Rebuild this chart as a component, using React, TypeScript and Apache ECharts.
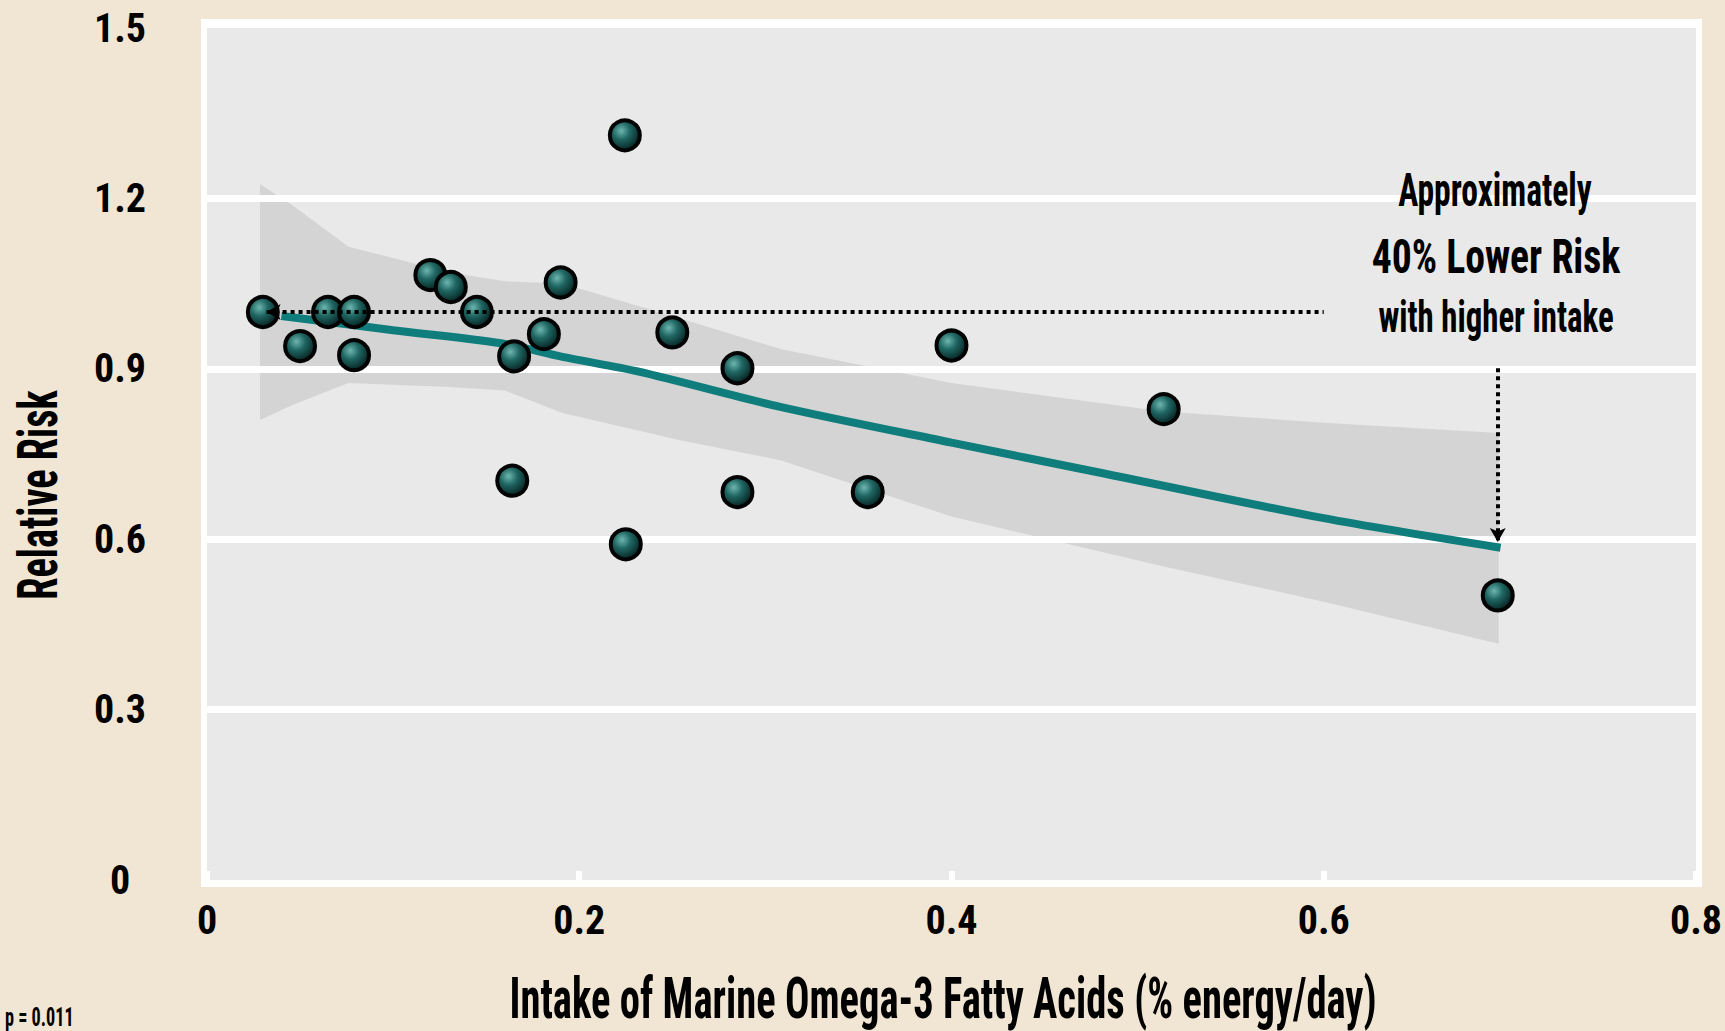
import React, { useEffect, useRef } from "react";
import * as echarts from "echarts";

// ---- data ----
const studyX = [0.03, 0.05, 0.065, 0.079, 0.079, 0.12, 0.131, 0.145, 0.19, 0.181, 0.165, 0.164, 0.2245, 0.225, 0.25, 0.285, 0.285, 0.355, 0.40, 0.514, 0.6935];
const studyRR = [1.0, 0.94, 1.0, 1.0, 0.924, 1.065, 1.044, 1.0, 1.052, 0.961, 0.922, 0.703, 1.311, 0.591, 0.964, 0.901, 0.683, 0.683, 0.941, 0.829, 0.501];

const trendX = [0.04, 0.10, 0.158, 0.191, 0.232, 0.308, 0.40, 0.48, 0.60, 0.695];
const trendY = [0.993, 0.968, 0.945, 0.921, 0.895, 0.833, 0.77, 0.717, 0.637, 0.585];

const bandX = [0.0285, 0.045, 0.076, 0.13, 0.16, 0.191, 0.253, 0.308, 0.40, 0.514, 0.60, 0.694];
const bandUpper = [1.225, 1.19, 1.115, 1.07, 1.054, 1.05, 0.99, 0.935, 0.875, 0.825, 0.805, 0.787];
const bandLower = [0.81, 0.835, 0.875, 0.868, 0.862, 0.822, 0.775, 0.739, 0.64, 0.552, 0.49, 0.416];

const refLineStart = [0.032, 1.0];
const refLineEnd = [0.6, 1.0];
const dropArrowStart = [0.6935, 0.901];
const dropArrowEnd = [0.6935, 0.595];

const xTicks = { min: 0, max: 0.8, interval: 0.2 };
const yTicks = { min: 0, max: 1.5, interval: 0.3 };

const xTitle = "Intake of Marine Omega-3 Fatty Acids (% energy/day)";
const yTitle = "Relative Risk";
const noteLines = ["Approximately", "40% Lower Risk", "with higher intake"];
const pText = "p = 0.011";

const FONT = "'Liberation Sans Narrow', 'Roboto Condensed', 'DejaVu Sans Condensed', sans-serif";

export default function App() {
  const ref = useRef<HTMLDivElement>(null);

  useEffect(() => {
    document.body.style.margin = "0";
    const chart = echarts.init(ref.current!, null, { renderer: "svg" });

    const points = studyX.map((x, i) => [x, studyRR[i]]);
    const trend = trendX.map((x, i) => [x, trendY[i]]);

    const markerFill = new echarts.graphic.RadialGradient(0.38, 0.35, 0.65, [
      { offset: 0, color: "#6db5ae" },
      { offset: 0.45, color: "#1f6662" },
      { offset: 1, color: "#072624" },
    ]);

    const txt = (text: string, x: number, y: number, size: number, sx: number, extra: any = {}) => ({
      type: "text",
      x,
      y,
      z: 20,
      scaleX: sx,
      ...extra,
      style: {
        text,
        fontFamily: FONT,
        fontWeight: "bold",
        fontSize: size,
        fill: "#000000",
        textAlign: "center",
        textVerticalAlign: "middle",
        ...(extra.style || {}),
      },
    });

    chart.setOption({
      animation: false,
      backgroundColor: "#f1e6d3",
      grid: {
        left: 207,
        top: 28,
        width: 1489,
        height: 852,
        show: true,
        backgroundColor: "#e9e9e9",
        borderWidth: 0,
      },
      xAxis: {
        type: "value",
        min: xTicks.min,
        max: xTicks.max,
        interval: xTicks.interval,
        z: 3,
        axisLine: { show: false },
        axisTick: { show: true, inside: true, length: 9, lineStyle: { color: "#ffffff", width: 6 } },
        splitLine: { show: false },
        axisLabel: {
          color: "#000000",
          fontFamily: FONT,
          fontWeight: "bold",
          fontSize: 40,
          margin: 20,
        },
      },
      yAxis: {
        type: "value",
        min: yTicks.min,
        max: yTicks.max,
        interval: yTicks.interval,
        z: 3,
        axisLine: { show: false },
        axisTick: { show: false },
        splitLine: {
          show: true,
          showMinLine: false,
          showMaxLine: false,
          lineStyle: { color: "#ffffff", width: 7 },
        },
        axisLabel: {
          color: "#000000",
          fontFamily: FONT,
          fontWeight: "bold",
          fontSize: 40,
          align: "center",
          margin: 87,
        },
      },
      graphic: [
        {
          type: "rect",
          z: -1,
          silent: true,
          shape: { x: 201, y: 19, width: 1501, height: 868 },
          style: { fill: "#ffffff" },
        },
        txt(xTitle, 943, 998, 58, 0.7),
        txt(yTitle, 38, 495, 56, 0.72, { rotation: Math.PI / 2 }),
        txt(noteLines[0], 1495, 191, 46, 0.73),
        txt(noteLines[1], 1496, 257, 49, 0.81),
        txt(noteLines[2], 1496, 317, 45, 0.73),
        txt(pText, 5, 1004, 26, 0.7, { style: { textAlign: "left", textVerticalAlign: "top" } }),
      ],
      series: [
        {
          type: "custom",
          z: 1,
          silent: true,
          data: [[0, 0]],
          renderItem: (params: any, api: any) => {
            const pts: number[][] = [];
            bandX.forEach((x, i) => pts.push(api.coord([x, bandUpper[i]])));
            for (let i = bandX.length - 1; i >= 0; i--) pts.push(api.coord([bandX[i], bandLower[i]]));
            return {
              type: "polygon",
              shape: { points: pts },
              style: { fill: "#d4d4d4" },
            };
          },
        },
        {
          type: "line",
          z: 3,
          data: trend,
          smooth: 0.3,
          symbol: "none",
          silent: true,
          lineStyle: { color: "#0f7d7b", width: 8 },
          markLine: {
            z: 6,
            silent: true,
            animation: false,
            symbolSize: [12, 14],
            label: { show: false },
            emphasis: { disabled: true },
            lineStyle: { color: "#000000", width: 4, type: [4, 4] },
            data: [
              [
                { coord: refLineStart, symbol: "arrow" },
                { coord: refLineEnd, symbol: "none" },
              ],
              [
                { coord: dropArrowStart, symbol: "none" },
                { coord: dropArrowEnd, symbol: "arrow" },
              ],
            ],
          },
        },
        {
          type: "scatter",
          z: 4,
          data: points,
          symbol: "circle",
          symbolSize: 30,
          silent: true,
          itemStyle: {
            color: markerFill,
            borderColor: "#030303",
            borderWidth: 4,
            opacity: 1,
          },
        },
      ],
    });

    return () => {
      chart.dispose();
    };
  }, []);

  return <div ref={ref} style={{ width: 1725, height: 1031 }} />;
}
